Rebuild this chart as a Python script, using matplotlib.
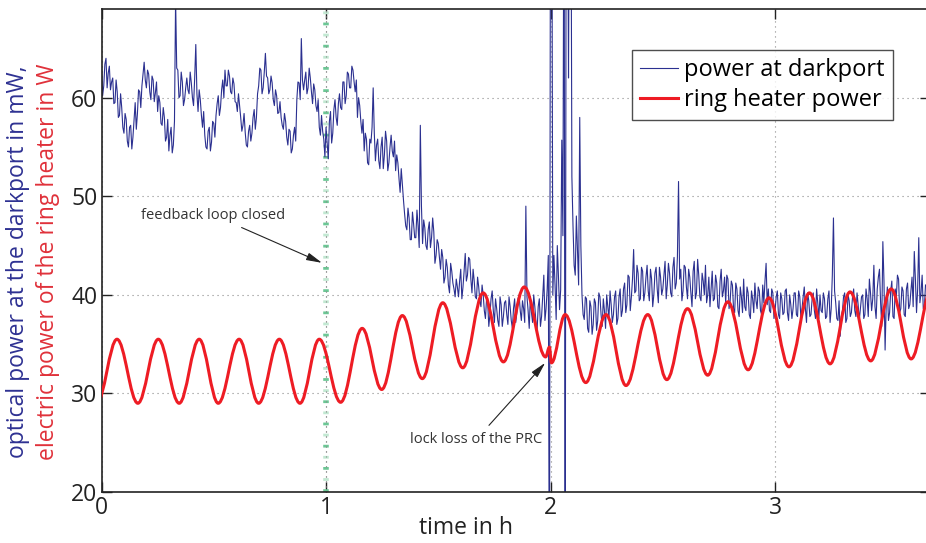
import numpy as np
import matplotlib.pyplot as plt
from matplotlib.path import Path
from matplotlib.patches import PathPatch

plt.rcParams['font.family'] = ['Open Sans', 'DejaVu Sans']

# optical power at the darkport in mW
# values at t = 0.00, 0.01, ... 3.67 h
darkport = [
    63.0, 61.2, 64.0, 62.5, 60.8, 62.0, 59.5, 60.6, 58.2, 59.0,
    56.4, 57.8, 55.0, 57.2, 56.0, 59.5, 58.4, 60.6, 61.2, 63.6,
    61.0, 62.4, 59.8, 61.8, 60.5, 58.6, 59.5, 57.2, 58.0, 56.0,
    54.6, 57.0, 55.2, 70.0, 62.8, 60.2, 61.6, 59.8, 62.0, 60.4,
    61.5, 59.2, 65.4, 58.6, 59.8, 57.0, 56.2, 54.8, 57.0, 55.5,
    57.4, 58.2, 60.2, 59.0, 61.8, 62.8, 61.2, 62.2, 60.4, 61.4,
    59.5, 60.4, 58.0, 57.2, 56.5, 55.0, 57.2, 56.4, 58.8, 58.0,
    61.2, 62.8, 61.0, 64.5, 62.0, 60.8, 61.5, 59.2, 60.2, 58.5,
    58.0, 56.8, 57.6, 55.2, 56.6, 54.8, 57.0, 59.8, 61.5, 66.0,
    60.8, 62.6, 61.0, 62.0, 59.4, 60.8, 58.6, 57.0, 58.2, 55.8,
    57.0, 53.8, 58.6, 56.4, 59.8, 57.2, 60.4, 58.8, 61.6, 60.2,
    62.4, 61.0, 62.8, 60.6, 58.0, 59.2, 56.4, 54.6, 55.8, 53.2,
    55.4, 61.0, 53.6, 55.8, 52.8, 56.0, 54.2, 55.6, 53.4, 56.2,
    54.0, 52.6, 53.4, 50.4, 51.2, 48.2, 46.6, 47.8, 45.6, 47.2,
    45.8, 47.0, 57.2, 45.2, 46.8, 44.6, 47.4, 45.8, 46.4, 44.0,
    45.2, 42.6, 43.8, 41.8, 42.8, 40.2, 42.4, 40.6, 41.6, 39.8,
    42.6, 40.8, 44.2, 42.0, 43.6, 40.2, 41.4, 39.6, 40.8, 38.8,
    40.0, 37.6, 39.2, 38.0, 40.4, 37.2, 38.6, 36.8, 39.0, 37.8,
    39.4, 37.0, 38.8, 36.6, 39.6, 38.2, 40.0, 37.4, 38.6, 49.0,
    38.4, 39.8, 37.2, 38.8, 36.4, 39.6, 37.8, 42.0, 38.6, 44.0,
    90.0, 40.0, 41.0, 45.0, 38.5, 55.7, 90.0, 90.0, 62.0, 90.0,
    47.0, 42.0, 44.5, 58.0, 40.0, 37.5, 39.6, 36.2, 38.8, 37.0,
    39.2, 37.4, 39.8, 36.8, 38.4, 40.0, 37.6, 39.0, 38.0, 40.4,
    37.6, 40.6, 38.4, 41.2, 39.0, 41.8, 39.8, 44.6, 40.4, 42.2,
    39.6, 42.4, 40.2, 43.0, 39.4, 41.6, 40.0, 42.8, 39.2, 41.8,
    40.6, 43.4, 41.0, 42.2, 39.8, 43.8, 41.2, 51.5, 42.6, 40.4,
    42.8, 39.6, 41.8, 38.8, 43.4, 40.2, 42.0, 39.4, 41.4, 43.0,
    40.0, 38.8, 42.4, 39.6, 41.2, 38.6, 42.6, 40.4, 39.2, 41.6,
    39.4, 41.0, 38.2, 40.6, 37.8, 39.8, 41.6, 38.4, 40.2, 37.6,
    39.6, 41.2, 38.6, 40.4, 38.0, 39.2, 43.2, 40.6, 38.2, 40.2,
    38.4, 40.4, 37.6, 39.6, 38.2, 40.6, 37.4, 39.0, 38.6, 40.2,
    37.8, 39.8, 38.6, 40.8, 37.2, 39.4, 38.0, 40.2, 37.6, 39.2,
    40.0, 38.2, 39.6, 37.8, 40.4, 38.6, 47.8, 39.2, 37.4, 35.8,
    38.4, 40.2, 37.6, 39.4, 38.2, 40.6, 37.8, 39.0, 38.6, 40.0,
    38.0, 39.6, 41.6, 38.4, 43.0, 37.6, 41.8, 39.2, 45.4, 34.4,
    40.8, 38.2, 41.4, 37.6, 39.8, 41.6, 38.6, 40.4, 37.8, 41.2,
    39.0, 41.8, 44.4, 38.2, 45.8, 40.2, 38.6, 41.0,
]
# values in between, at t = 0.005, 0.015, ... 3.665 h
darkport_mid = [
    60.2, 63.4, 61.0, 63.2, 61.6, 59.4, 61.8, 58.0, 60.4, 57.0,
    58.4, 55.6, 57.0, 54.8, 57.8, 56.8, 60.8, 59.0, 62.4, 61.8,
    62.8, 60.6, 62.2, 59.6, 61.6, 60.2, 57.4, 59.0, 55.6, 57.8,
    56.2, 54.4, 57.6, 63.0, 60.0, 62.6, 59.2, 61.0, 60.8, 62.6,
    60.0, 62.0, 60.4, 60.8, 58.2, 58.6, 55.0, 56.6, 54.6, 57.6,
    56.0, 59.4, 58.2, 60.8, 60.0, 61.2, 62.8, 60.6, 62.0, 59.6,
    58.6, 59.2, 56.6, 58.4, 55.2, 56.6, 55.6, 58.0, 56.8, 60.4,
    63.0, 60.4, 62.6, 62.2, 60.4, 62.2, 59.8, 60.8, 58.4, 59.6,
    57.2, 58.4, 56.0, 56.8, 54.4, 56.2, 55.6, 61.6, 59.8, 61.8,
    61.8, 60.4, 63.0, 60.6, 61.4, 59.2, 59.8, 56.2, 56.6, 54.0,
    55.4, 57.6, 55.4, 58.8, 58.0, 59.4, 59.0, 61.6, 59.4, 62.6,
    61.0, 63.2, 61.6, 61.8, 60.0, 57.6, 57.8, 56.4, 53.4, 55.8,
    57.0, 56.4, 55.2, 53.6, 55.0, 52.8, 56.6, 52.6, 55.0, 54.6,
    55.6, 54.2, 51.8, 52.8, 49.6, 47.0, 48.8, 45.6, 48.4, 45.8,
    48.6, 44.8, 49.0, 47.6, 45.0, 46.6, 44.8, 47.8, 43.2, 45.6,
    43.8, 44.6, 41.2, 43.6, 41.0, 43.2, 41.2, 39.8, 40.8, 41.4,
    39.6, 42.4, 41.4, 43.8, 41.6, 42.6, 39.8, 41.8, 39.4, 41.0,
    38.4, 39.6, 36.8, 39.6, 38.4, 39.6, 37.4, 39.8, 36.8, 39.2,
    38.0, 39.8, 37.4, 38.6, 37.2, 39.6, 38.4, 39.4, 37.2, 39.8,
    36.6, 38.2, 40.0, 37.2, 38.8, 36.8, 39.8, 37.4, 40.6, 5.0,
    90.0, 44.0, 37.5, 42.0, 40.5, 46.0, 5.0, 90.0, 90.0, 52.0,
    43.0, 48.0, 41.0, 45.0, 38.0, 39.8, 36.6, 39.4, 36.0, 39.6,
    36.4, 40.2, 38.0, 39.6, 36.6, 38.8, 40.4, 37.2, 39.8, 37.0,
    39.8, 37.8, 40.6, 38.2, 42.0, 38.4, 41.6, 40.2, 43.0, 39.4,
    42.8, 39.4, 41.8, 40.4, 42.6, 38.8, 42.2, 40.6, 42.8, 40.0,
    42.0, 39.6, 43.2, 40.2, 42.8, 40.6, 43.8, 41.6, 39.4, 43.0,
    40.8, 42.6, 40.2, 42.4, 39.6, 43.6, 39.8, 42.2, 40.0, 39.2,
    41.8, 40.6, 39.4, 42.0, 38.8, 41.4, 39.8, 41.8, 42.0, 38.6,
    41.4, 38.6, 41.2, 38.4, 40.8, 38.2, 38.8, 40.8, 38.0, 40.4,
    38.2, 39.4, 40.8, 38.4, 41.0, 41.4, 39.0, 38.4, 40.6, 37.6,
    39.8, 38.0, 40.2, 38.0, 40.4, 38.2, 40.0, 37.6, 40.2, 38.0,
    40.4, 37.6, 39.8, 38.6, 40.2, 37.8, 39.6, 38.4, 40.6, 37.6,
    38.4, 40.2, 37.6, 39.6, 37.2, 42.0, 40.4, 37.6, 39.4, 37.8,
    39.8, 37.2, 40.0, 37.8, 39.8, 38.4, 40.2, 37.4, 39.8, 37.6,
    40.6, 37.8, 40.2, 39.6, 38.8, 40.6, 42.6, 36.8, 41.4, 39.0,
    37.4, 40.4, 37.8, 40.6, 42.0, 38.2, 40.8, 38.0, 40.6, 38.6,
    40.4, 38.8, 41.6, 40.6, 39.2, 42.0, 38.8,
]
dark = np.empty(len(darkport) + len(darkport_mid))
dark[0::2] = darkport
dark[1::2] = darkport_mid
t_dark = np.linspace(0, 3.67, len(dark))

# ring heater power in W: turning points (time in h, value)
heater_t = [
    -0.021, 0.069, 0.162, 0.253, 0.346, 0.435, 0.520, 0.613, 0.700, 0.792,
    0.884, 0.970, 1.065, 1.161, 1.248, 1.340, 1.429, 1.520, 1.609, 1.700,
    1.790, 1.883, 1.978, 1.995, 2.004, 2.065, 2.157, 2.247, 2.336, 2.433,
    2.518, 2.610, 2.700, 2.790, 2.880, 2.973, 3.062, 3.153, 3.245, 3.334,
    3.426, 3.517, 3.606, 3.700,
]
heater_p = [
    29.0, 35.5, 29.0, 35.5, 29.0, 35.5, 29.0, 35.5, 29.0, 35.5,
    29.0, 35.5, 29.1, 36.6, 30.4, 37.9, 31.5, 39.2, 32.6, 40.2,
    33.2, 40.8, 33.7, 34.7, 33.1, 38.0, 31.1, 38.0, 30.8, 38.0,
    31.4, 38.6, 31.85, 39.3, 32.4, 39.7, 32.7, 40.2, 33.0, 40.3,
    33.3, 40.6, 33.5, 40.8,
]

blue = '#2b3090'
red = '#ee1c24'

fig = plt.figure(figsize=(9.26, 5.43), dpi=100)
ax = fig.add_axes([101.5 / 926, 51 / 543, 828.5 / 926, 483 / 543])

ax.grid(True, color='#8a8a8a', linestyle=(0, (1, 3.5)), linewidth=0.8)
ax.set_axisbelow(True)

# feedback loop closed marker at t = 1 h
ax.axvline(1, color='#6cc795', lw=4, linestyle=(0, (0.5, 3.5)))
ax.axvline(1, color='#c2e8d2', lw=4, linestyle=(2, (0.5, 3.5)))
ax.axvline(1, color='#8a8a8a', lw=0.8, linestyle=(0, (1, 3.5)))

ax.plot(t_dark, dark, color=blue, lw=0.8, label='power at darkport')

# smooth curve through the turning points (bezier with flat tangents)
verts = [(heater_t[0], heater_p[0])]
codes = [Path.MOVETO]
for i in range(1, len(heater_t)):
    ta, va = heater_t[i - 1], heater_p[i - 1]
    tb, vb = heater_t[i], heater_p[i]
    dt = tb - ta
    verts += [(ta + 0.364 * dt, va), (tb - 0.364 * dt, vb), (tb, vb)]
    codes += [Path.CURVE4] * 3
ax.add_patch(PathPatch(Path(verts, codes), fill=False, edgecolor=red, lw=2.2,
                       zorder=3, capstyle='round', joinstyle='round'))
ax.plot([], [], color=red, lw=2.2, label='ring heater power')

ax.set_xlim(0, 3.69)
ax.set_ylim(20, 69)
ax.set_xticks([0, 1, 2, 3])
ax.set_yticks([20, 30, 40, 50, 60])
ax.tick_params(direction='in', length=7, width=1, top=True, right=True,
               labelsize=16.5, colors='#222222', pad=3)
for sp in ax.spines.values():
    sp.set_color('#222222')
    sp.set_linewidth(1.2)

ax.set_xlabel('time in h', fontsize=16.5, color='#222222')
ax.xaxis.set_label_coords(0.44, -0.05)

fig.text(18 / 926, 0.5175, 'optical power at the darkport in mW,', rotation=90,
         color='#2e3192', fontsize=16.5, ha='center', va='center')
fig.text(48 / 926, 0.5175, 'electric power of the ring heater in W', rotation=90,
         color='#e0313a', fontsize=16.5, ha='center', va='center')

arrow = dict(arrowstyle='-|>,head_length=0.9,head_width=0.22', color='#222222',
             lw=0.8, shrinkA=4, shrinkB=0)
ax.annotate('feedback loop closed', xy=(0.982, 43.25), xytext=(0.497, 48.1),
            fontsize=10.5, color='#333333', ha='center', va='center',
            arrowprops=arrow)
ax.annotate('lock loss of the PRC', xy=(1.976, 33.1), xytext=(1.668, 25.3),
            fontsize=10.5, color='#333333', ha='center', va='center',
            arrowprops=arrow)

leg = ax.legend(loc='upper right', bbox_to_anchor=(0.955, 0.915), borderaxespad=0,
                fontsize=17, frameon=True, fancybox=False, handlelength=1.6,
                handletextpad=0.25, borderpad=0.35, labelspacing=0.25)
leg.get_frame().set_edgecolor('#222222')
leg.get_frame().set_linewidth(1.0)

fig.savefig('out.png', dpi=100)
